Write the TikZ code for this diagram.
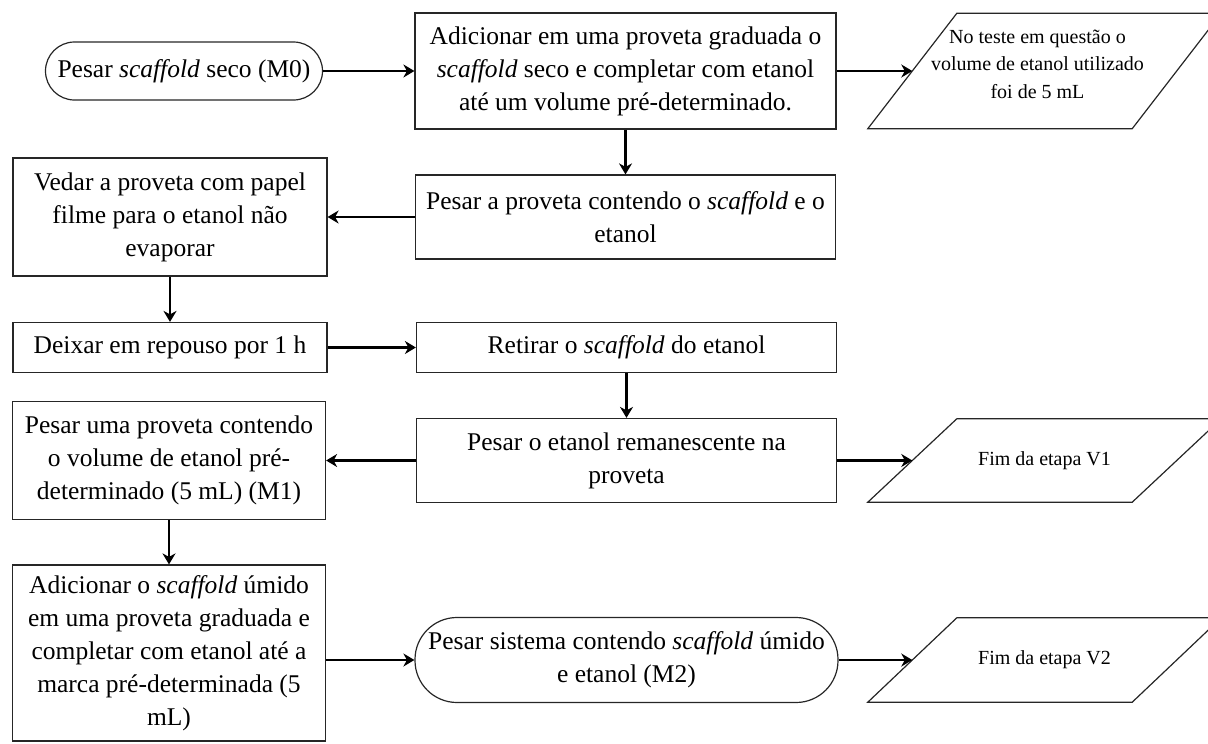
\documentclass[tikz,border=0pt]{standalone}
\usepackage{fontspec}
\setmainfont{Liberation Serif}
\usetikzlibrary{arrows.meta}
\begin{document}
\begin{tikzpicture}[x=1pt,y=-1pt,
  every node/.style={font=\fontsize{25.5}{33}\selectfont, align=center, inner sep=0pt},
  stepbox/.style={draw=black!85, line width=1.2pt, rectangle},
  terminal/.style={draw=black!85, line width=1.2pt, rectangle, rounded corners=#1},
  iobox/.style={font=\fontsize{20}{28}\selectfont, minimum width=264pt},
  flow/.style={-{Stealth[length=11pt,width=13pt,inset=3.5pt]}, line width=2.6pt}
]
\clip (0,0) rectangle (1208,744);

% first row
\node[terminal=29pt, minimum width=277pt, minimum height=58pt] (m0) at (184,71)
  {Pesar \textit{scaffold} seco (M0)};
\node[stepbox, minimum width=421pt, minimum height=116pt] (b2) at (625.5,71)
  {Adicionar em uma proveta graduada o\\ \textit{scaffold} seco e completar com etanol\\ até um volume pré-determinado.};
\node[iobox, minimum height=115pt] (p0) at (1044.5,71) {};
\node[iobox, font=\fontsize{20}{27.5}\selectfont] (p0text) at ([xshift=-7pt,yshift=7pt]p0.center)
  {No teste em questão o\\ volume de etanol utilizado\\ foi de 5 mL};

% second row
\node[stepbox, minimum width=420pt, minimum height=84pt] (b4) at (625.5,217)
  {Pesar a proveta contendo o \textit{scaffold} e o\\ etanol};
\node[stepbox, minimum width=314pt, minimum height=118pt] (b5) at (170,217)
  {Vedar a proveta com papel\\ filme para o etanol não\\ evaporar};

% third row
\node[stepbox, minimum width=314pt, minimum height=50pt] (b6) at (170,347.5)
  {Deixar em repouso por 1 h};
\node[stepbox, minimum width=420pt, minimum height=50pt] (b7) at (626.5,347.5)
  {Retirar o \textit{scaffold} do etanol};

% fourth row
\node[stepbox, minimum width=420pt, minimum height=84pt] (b8) at (626.5,460.5)
  {Pesar o etanol remanescente na\\ proveta};
\node[stepbox, minimum width=313pt, minimum height=118pt] (b9) at (169,460.5)
  {Pesar uma proveta contendo\\ o volume de etanol pré-\\ determinado (5 mL) (M1)};
\node[iobox, minimum height=83pt] (p1) at (1044.5,460.5) {Fim da etapa V1};

% fifth row
\node[stepbox, minimum width=313pt, minimum height=176pt] (b11) at (169,653)
  {Adicionar o \textit{scaffold} úmido\\ em uma proveta graduada e\\ completar com etanol até a\\ marca pré-determinada (5\\ mL)};
\node[terminal=42pt, minimum width=423pt, minimum height=85pt] (m2) at (626.5,660)
  {Pesar sistema contendo \textit{scaffold} úmido\\ e etanol (M2)};
\node[iobox, minimum height=84pt] (p2) at (1044.5,660) {Fim da etapa V2};

% parallelogram outlines around the data nodes
\foreach \n in {p0,p1,p2}
  \draw[draw=black!85, line width=1.2pt]
    ([xshift=44.5pt]\n.north west) -- ([xshift=44.5pt]\n.north east)
    -- ([xshift=-44.5pt]\n.south east) -- ([xshift=-44.5pt]\n.south west) -- cycle;

% connectors
\draw[flow] (m0.east) -- (b2.west);
\draw[flow] (b2.east) -- (p0.west);
\draw[flow] (b2.south) -- (b4.north);
\draw[flow] (b4.west) -- (b5.east);
\draw[flow] (b5.south) -- (b6.north);
\draw[flow] (b6.east) -- (b7.west);
\draw[flow] (b7.south) -- (b8.north);
\draw[flow] (b8.west) -- (b9.east);
\draw[flow] (b8.east) -- (p1.west);
\draw[flow] (b9.south) -- (b11.north);
\draw[flow] (m2.west -| b11.east) -- (m2.west);
\draw[flow] (m2.east) -- (p2.west);
\end{tikzpicture}
\end{document}
